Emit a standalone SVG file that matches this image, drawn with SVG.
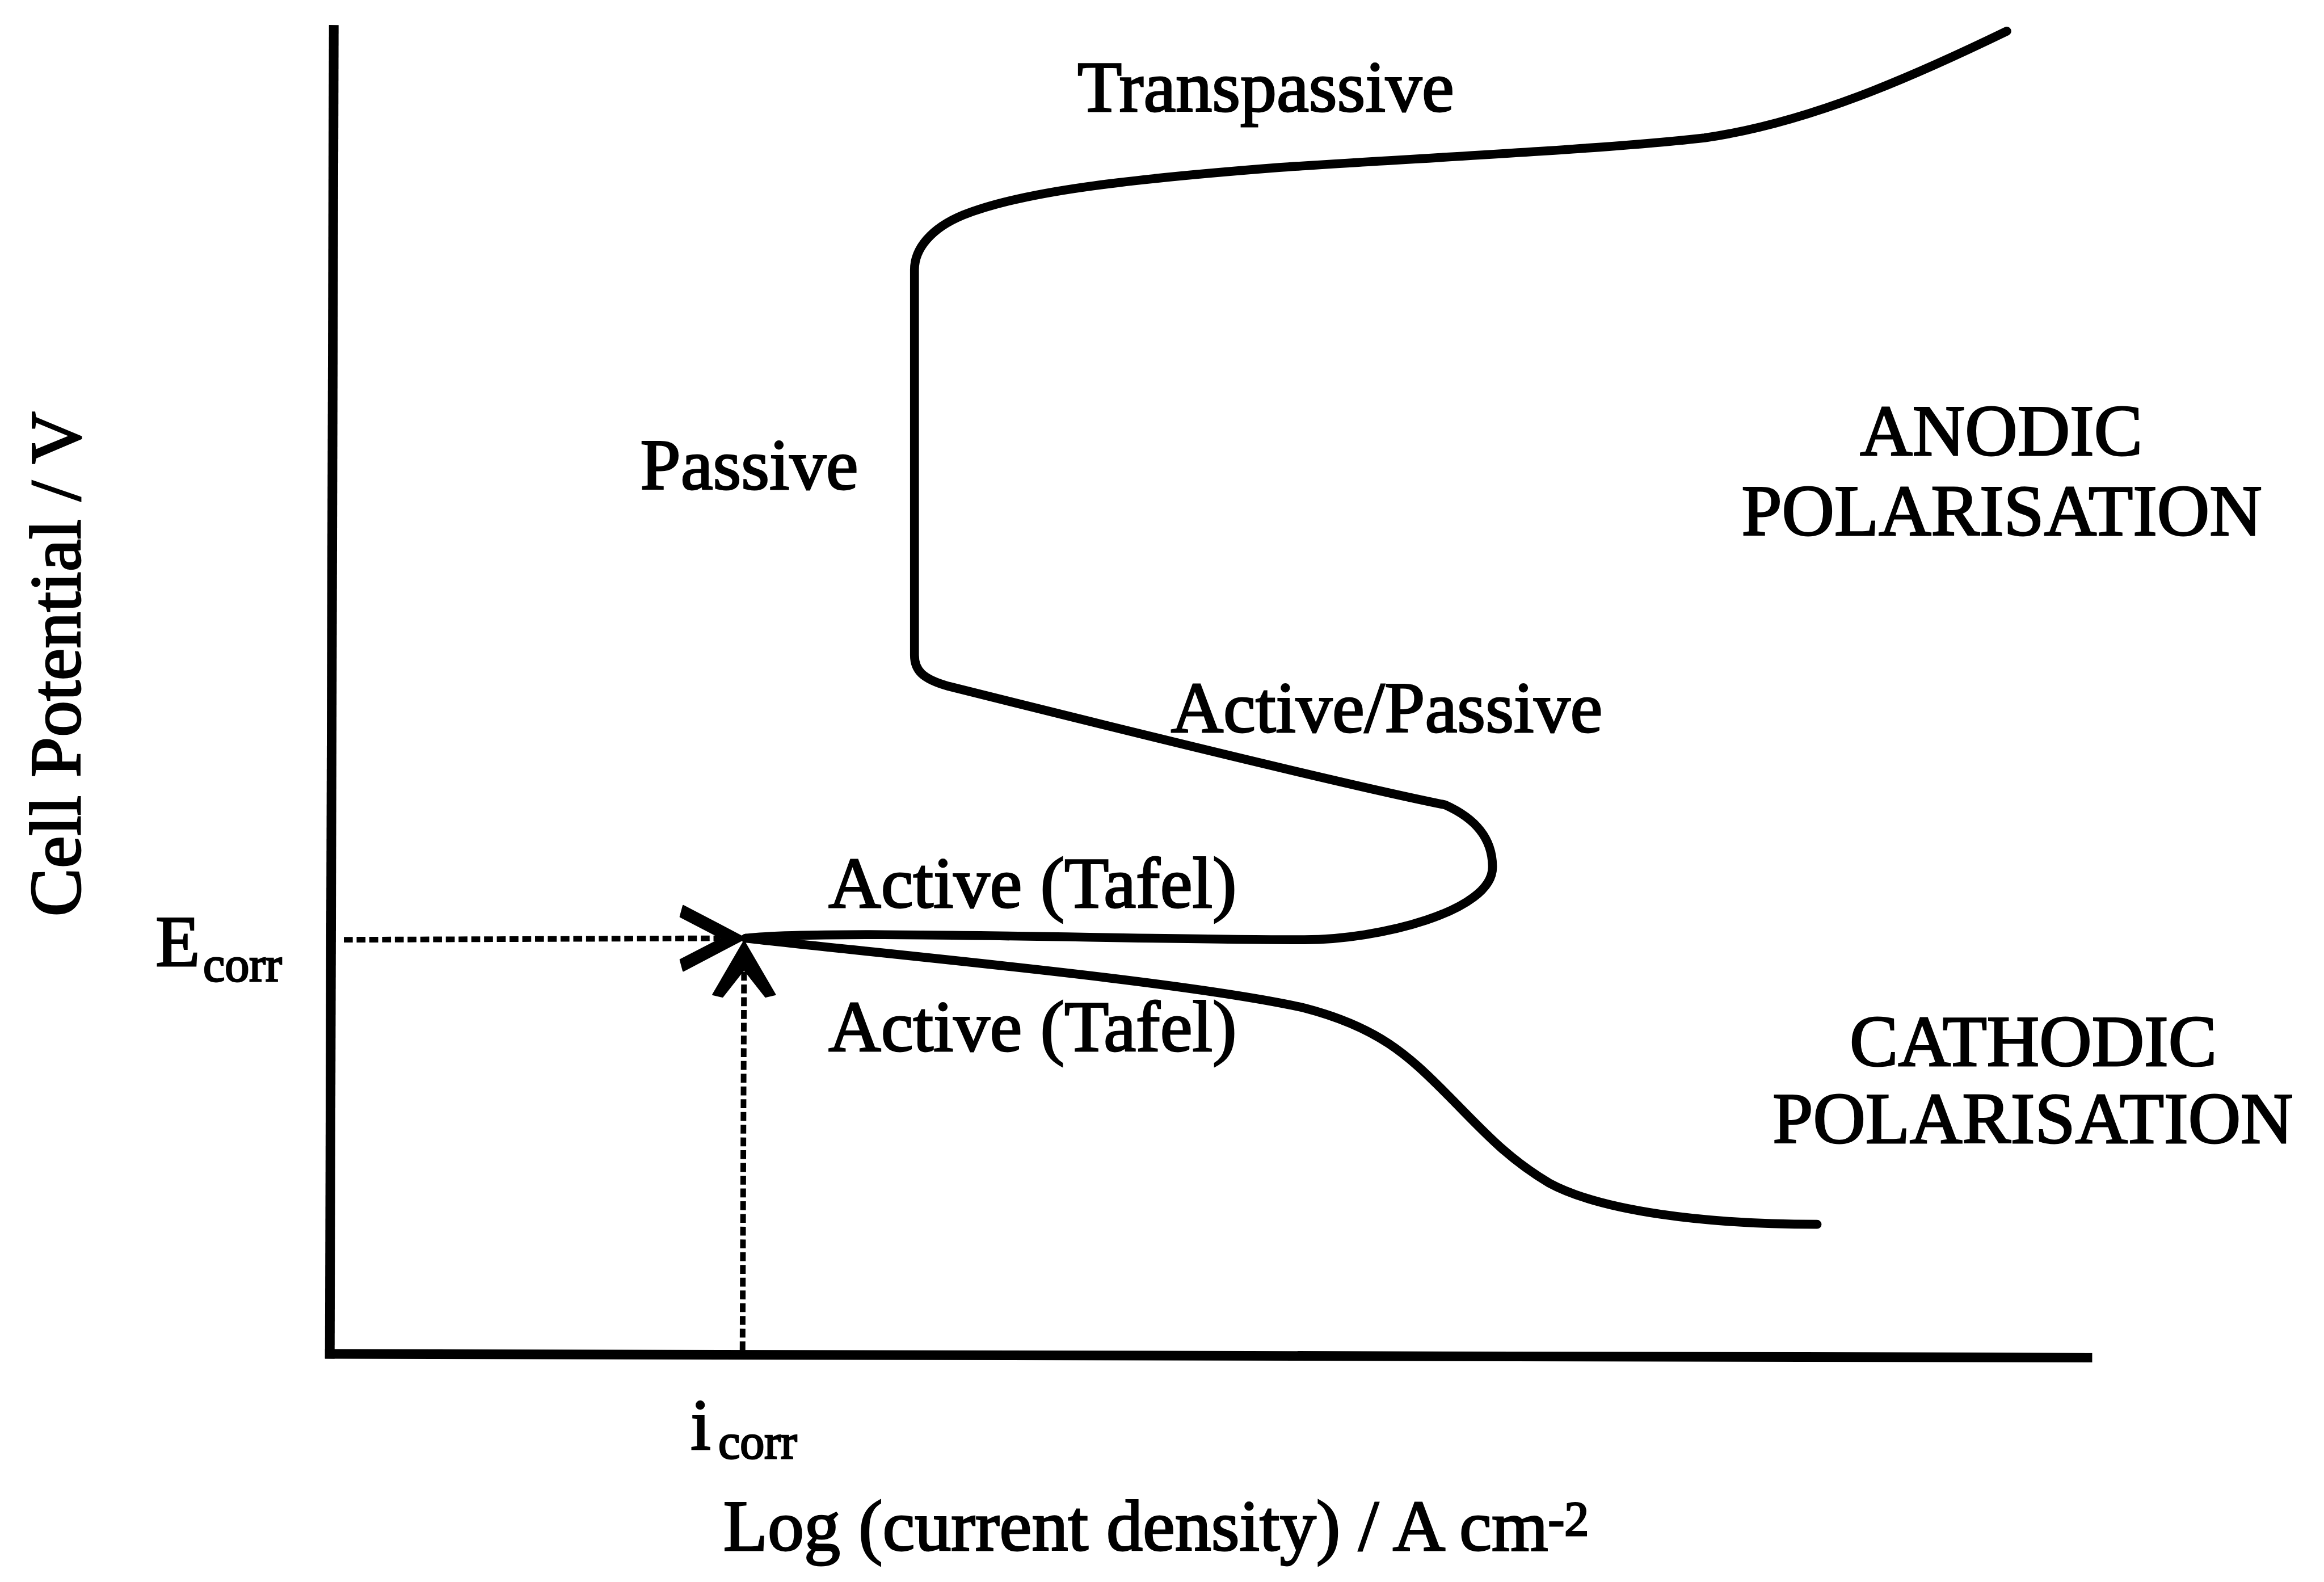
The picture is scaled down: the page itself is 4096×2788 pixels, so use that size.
<svg xmlns="http://www.w3.org/2000/svg" width="4096" height="2788" viewBox="0 0 4096 2788">
<style>
.lbl{font-family:"Liberation Serif","Times New Roman",serif;font-size:49px;fill:#000;stroke:#000;stroke-width:1.1px}
.sub{font-size:33px;stroke-width:1.1px}
.axis{fill:none;stroke:#000;stroke-width:6.5;stroke-linecap:butt}
.curve{fill:none;stroke:#000;stroke-width:6;stroke-linecap:round;stroke-linejoin:round}
.dot{fill:none;stroke:#000;stroke-width:3.8;stroke-dasharray:6 2.6}
.head{fill:#000;stroke:#000;stroke-width:1;stroke-linejoin:round}
</style>
<rect width="4096" height="2788" fill="#fff"/>
<g transform="scale(2.61224)">
  <g id="axes">
    <line class="axis" x1="225.2" y1="16.9" x2="222.5" y2="916.6"/>
    <line class="axis" x1="219.3" y1="913.4" x2="1411.6" y2="915.9"/>
  </g>
  <g id="connectors">
    <path id="anodic-curve" class="curve" d="M503,633 C560,627 760,634 880,634 C930,634 1007,615 1007,585 C1007,565 995,552 975,543 C900,528 700,478 640,463 C622,458 617,452 617,442 L617,182 C617,168 628,154 650,145 C690,129 760,121 863,113 C950,107 1080,101 1150,93 C1220,83 1290,52 1354,21"/>
    <path id="cathodic-curve" class="curve" d="M503,633 C600,644 800,662 880,680 C930,693 950,712 975,737 C1000,762 1015,780 1045,798 C1080,817 1150,826 1226,826"/>
    <g id="ecorr-arrow">
      <line class="dot" x1="232" y1="634" x2="486" y2="633"/>
      <path class="head" d="M503,633 L461,611 L459,618.5 L487,633 L459,647.5 L461,655 Z"/>
    </g>
    <g id="icorr-arrow">
      <line class="dot" x1="501" y1="911" x2="502" y2="654"/>
      <path class="head" d="M502,635 L481,671 L487.5,672.5 L502,654 L516.5,672.5 L523,671 Z"/>
    </g>
  </g>
  <g id="label-y-axis"><text class="lbl" transform="translate(54,448) rotate(-90)" text-anchor="middle" font-size="51">Cell Potential / V</text></g>
  <g id="label-x-axis"><text class="lbl" x="488" y="1046">Log (current density) / A cm<tspan class="sub" dy="-10">-2</tspan></text></g>
  <g id="label-ecorr"><text class="lbl" x="105" y="651.5" font-size="50">E<tspan class="sub" x="137" y="662">corr</tspan></text></g>
  <g id="label-icorr"><text class="lbl" x="466" y="977.7" font-size="52">i<tspan class="sub" x="484.6" y="984">corr</tspan></text></g>
  <g id="label-transpassive"><text class="lbl" x="727" y="75">Transpassive</text></g>
  <g id="label-passive"><text class="lbl" x="432" y="330">Passive</text></g>
  <g id="label-active-passive"><text class="lbl" x="790" y="494">Active/Passive</text></g>
  <g id="label-tafel-anodic"><text class="lbl" x="559" y="612">Active (Tafel)</text></g>
  <g id="label-tafel-cathodic"><text class="lbl" x="559" y="709">Active (Tafel)</text></g>
  <g id="label-anodic"><text class="lbl" x="1255" y="307" font-size="48">ANODIC</text><text class="lbl" x="1175" y="361" font-size="48">POLARISATION</text></g>
  <g id="label-cathodic"><text class="lbl" x="1248" y="719" font-size="48">CATHODIC</text><text class="lbl" x="1196" y="771" font-size="48">POLARISATION</text></g>
</g>
</svg>
